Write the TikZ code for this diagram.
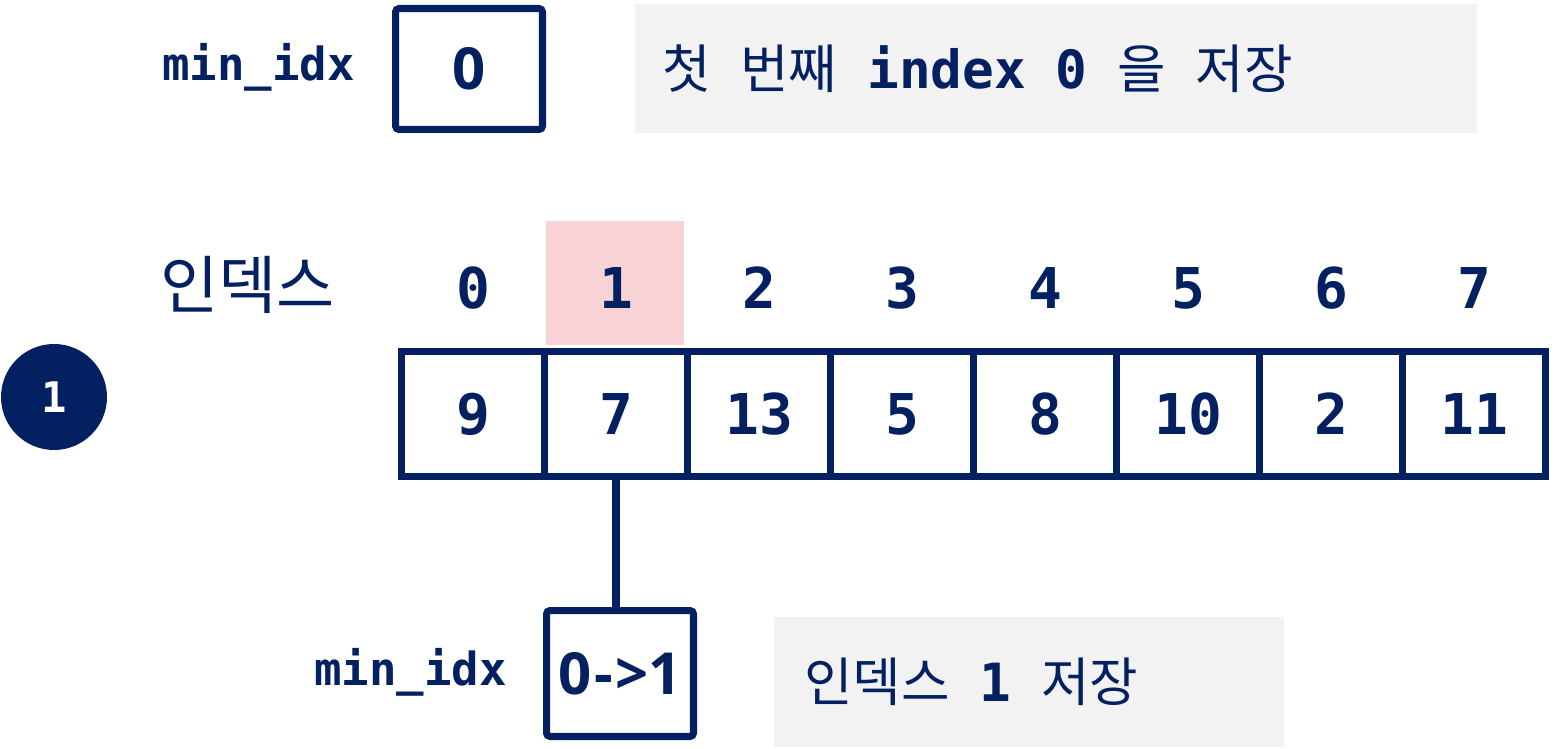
\documentclass[tikz,border=0pt]{standalone}
\usepackage{fontspec}
\setmonofont{DejaVu Sans Mono}
\newfontfamily\kr{Noto Sans CJK KR}
\newfontfamily\boxfont{Open Sans}
\usetikzlibrary{positioning,calc}
\definecolor{navy}{RGB}{3,32,96}
\definecolor{notegray}{RGB}{242,242,242}
\definecolor{pickpink}{RGB}{248,211,213}
\newcommand{\gap}{\hspace{17pt}}
\tikzstyle{cell}=[draw=navy,line width=4pt,minimum width=2.86cm,minimum height=2.5cm,inner sep=0pt,text=navy,font=\fontsize{32}{34}\selectfont\ttfamily\bfseries]
\tikzstyle{varbox}=[cell,minimum width=2.94cm,minimum height=2.42cm,rounded corners=2pt,font=\fontsize{33}{35}\selectfont\boxfont\bfseries]
\tikzstyle{note}=[fill=notegray,inner ysep=0pt,align=left,text=navy]
\tikzstyle{lbl}=[text=navy,inner sep=0pt,font=\fontsize{26}{28}\selectfont\ttfamily\bfseries]
\tikzstyle{idx}=[text=navy,font=\fontsize{32}{34}\selectfont\ttfamily\bfseries]
\tikzstyle{krtext}=[text=navy,inner sep=0pt,font=\kr\fontsize{36}{38}\selectfont]

\begin{document}
\begin{tikzpicture}[x=0.02cm,y=-0.02cm]
    \useasboundingbox (0,0) rectangle (1557,749);
    % top: saved index
    \node [lbl,anchor=east] (minlbl) at (355,67) {min\_idx};
    \node [varbox] (minbox) at (469,69) {0};
    \node [note,minimum height=2.58cm,inner xsep=0.54cm,text width=15.76cm] (note) at (1056,68.5)
      {\fontsize{30}{32}\selectfont{\kr 첫}\gap{\kr 번째}\gap{\ttfamily\bfseries index}\gap{\ttfamily\bfseries 0}\gap{\kr 을}\gap{\kr 저장}};
    % array with index row
    \node [fill=pickpink,minimum width=2.76cm,minimum height=2.48cm,inner sep=0pt] (pick) at (615,283) {};
    \node [krtext,anchor=east] (idxname) at (335,285) {인덱스};
    \foreach \v [count=\i from 0] in {9,7,13,5,8,10,2,11} {
      \node [cell] (c\i) at (473+143*\i,414) {\v};
      \node [idx] (i\i) at (473+143*\i,288) {\i};
    }
    \node [circle,fill=navy,minimum size=2.12cm,inner sep=0pt,text=white,
      font=\fontsize{24}{26}\selectfont\ttfamily\bfseries] (round) at (54,397) {1};
    % bottom: new index
    \node [varbox,minimum height=2.52cm] (newbox) at (620,673.5) {0\kern1.5pt-\kern1.5pt>1};
    \node [lbl,anchor=east] (newlbl) at (507,672) {min\_idx};
    \draw [navy,line width=4pt] (c1.south) -- (c1.south |- newbox.north);
    \node [note,minimum height=2.6cm,inner xsep=0.6cm,text width=9cm] (newnote) at (1029,682)
      {\fontsize{30}{32}\selectfont{\kr 인덱스}\gap{\ttfamily\bfseries 1}\gap{\kr 저장}};
\end{tikzpicture}
\end{document}
